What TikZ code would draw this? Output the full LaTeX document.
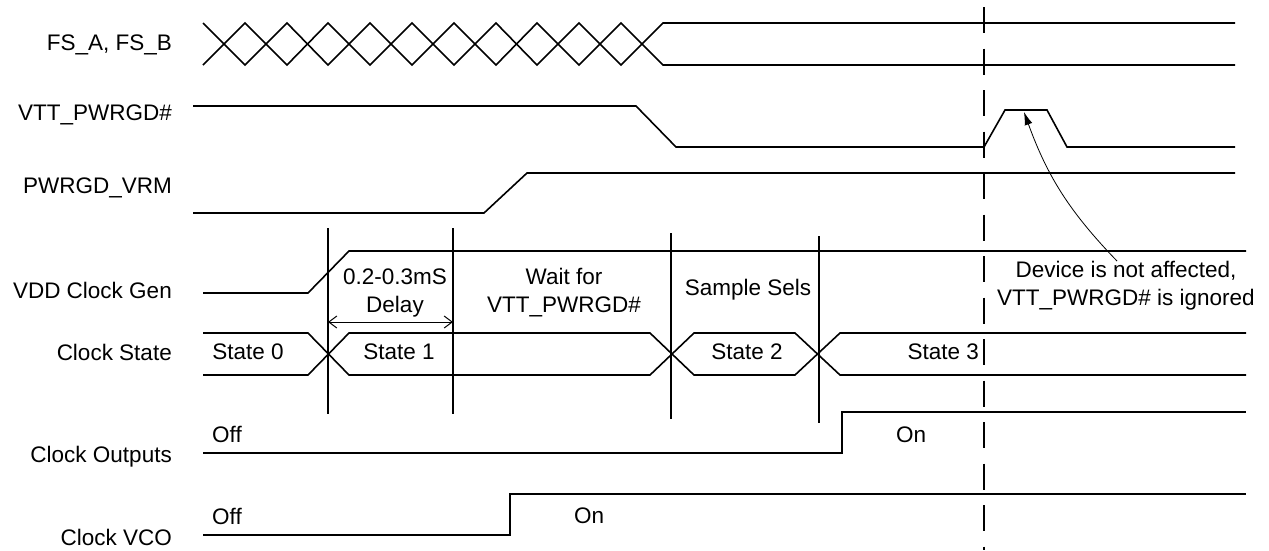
\documentclass[tikz,border=0pt]{standalone}
\usepackage{fontspec}
\setmainfont{Liberation Sans}
\usetikzlibrary{arrows.meta}

\begin{document}
\begin{tikzpicture}[x=1pt,y=-1pt,
  sig/.style={line width=1.6pt},
  bar line/.style={line width=1.3pt},
  sig label/.style={anchor=base east},
  txt/.style={anchor=base,align=center},
  every node/.style={inner sep=0pt,font=\fontsize{22.5}{27.5}\selectfont}]

  \useasboundingbox (0,0) rectangle (1269,550);

  % signal names
  \node[sig label] (fs)   at (172,50)  {FS\_A, FS\_B};
  \node[sig label] (vtt)  at (172,120) {VTT\_PWRGD\#};
  \node[sig label] (vrm)  at (172,193) {PWRGD\_VRM};
  \node[sig label] (vdd)  at (172,298) {VDD Clock Gen};
  \node[sig label] (cst)  at (172,360) {Clock State};
  \node[sig label] (cout) at (172,462) {Clock Outputs};
  \node[sig label] (vco)  at (172,545) {Clock VCO};

  % FS_A, FS_B
  \draw[sig] (203,23) -- (245,65) -- (287,23) -- (328,65) -- (370,23) -- (412,65)
    -- (454,23) -- (496,65) -- (537,23) -- (579,65) -- (621,23) -- (663,65) -- (1235,65);
  \draw[sig] (203,65) -- (245,23) -- (287,65) -- (328,23) -- (370,65) -- (412,23)
    -- (454,65) -- (496,23) -- (537,65) -- (579,23) -- (621,65) -- (663,23) -- (1235,23);

  % VTT_PWRGD#
  \draw[sig] (193,106) -- (636,106) -- (676,147) -- (984,147) -- (1005,110)
    -- (1047,110) -- (1067,147) -- (1235,147);
  \coordinate (pk) at (1024,112);

  % PWRGD_VRM
  \draw[sig] (193,213) -- (484,213) -- (527,173) -- (1235,173);

  % VDD Clock Gen
  \draw[sig] (203,293) -- (308,293) -- (349,251) -- (1246,251);

  % Clock State
  \draw[sig] (203,333) -- (308,333) -- (349,375) -- (650,375) -- (694,333)
    -- (795,333) -- (840,375) -- (1246,375);
  \draw[sig] (203,375) -- (308,375) -- (349,333) -- (650,333) -- (694,375)
    -- (795,375) -- (840,333) -- (1246,333);

  % Clock Outputs
  \draw[sig] (203,453) -- (842,453) -- (842,412) -- (1246,412);

  % Clock VCO
  \draw[sig] (203,535) -- (510,535) -- (510,494) -- (1246,494);

  % phase bars
  \draw[bar line] (328,228) -- (328,414);
  \draw[bar line] (453,228) -- (453,414);
  \draw[bar line] (671,233) -- (671,419);
  \draw[bar line] (819,236) -- (819,423);
  \coordinate (d1) at (328,322);
  \coordinate (d2) at (453,322);
  \draw[line width=1pt,{Straight Barb[length=8pt,width=12pt]}-{Straight Barb[length=8pt,width=12pt]}] (d1) -- (d2);

  % dashed marker
  \draw[line width=1.5pt,dash pattern=on 26pt off 15.5pt] (984,7) -- (984,550);

  % texts (base is the last line)
  \node[txt] (delay) at (395,312) {0.2-0.3mS\\Delay};
  \node[txt] (wait)  at (564,312) {Wait for\\VTT\_PWRGD\#};
  \node[txt] (sels)  at (748,295) {Sample Sels};
  \node[txt] (note)  at (1126,305) {Device is not affected,\\VTT\_PWRGD\# is ignored};

  \node[txt] (s0) at (248,359) {State 0};
  \node[txt] (s1) at (399,359) {State 1};
  \node[txt] (s2) at (747,359) {State 2};
  \node[anchor=base east] (s3) at (979,359) {State 3};

  \node[anchor=base west] (off1) at (212,442) {Off};
  \node[anchor=base west] (on1)  at (896,442) {On};
  \node[anchor=base west] (off2) at (212,524) {Off};
  \node[anchor=base west] (on2)  at (574,523) {On};

  \draw[line width=0.8pt,-{Latex[length=13pt,width=8pt]}] ([xshift=-9pt]note.north) to[bend left=12] (pk);

\end{tikzpicture}
\end{document}
